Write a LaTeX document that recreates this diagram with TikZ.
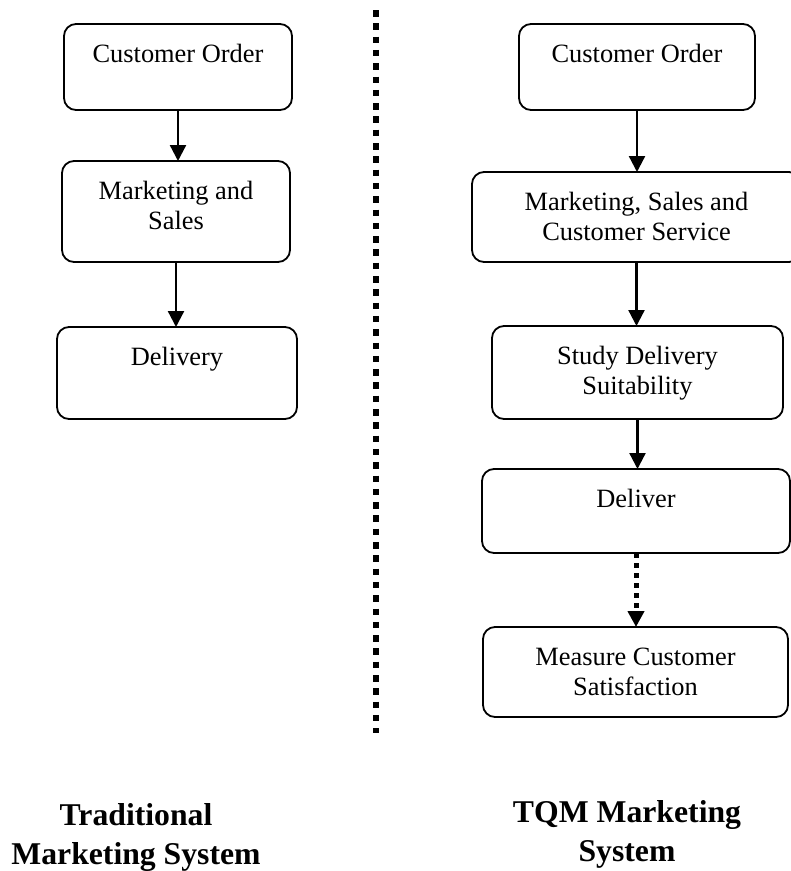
\documentclass[tikz,border=0pt]{standalone}
\usepackage{fontspec}
\setmainfont{Liberation Serif}
\usetikzlibrary{arrows.meta}
\newcommand\mybx[3]{\parbox[c][#2pt][t]{#1pt}{\centering\rule{0pt}{38.5pt}#3\par}}
\begin{document}
\begin{tikzpicture}[x=1pt,y=-1pt,
  box/.style={draw, line width=1.8pt, rounded corners=12pt, inner sep=0pt, outer sep=0pt,
    font=\fontsize{26.4}{30}\selectfont},
  arr/.style={line width=2.3pt, -{Triangle[width=16pt,length=16pt]}},
  dotarr/.style={line width=5pt, dash pattern=on 5pt off 5pt, -{Triangle[width=16pt,length=16pt]}},
  divider/.style={line width=6.5pt, dash pattern=on 6.5pt off 6.8pt},
  title/.style={inner sep=0pt, anchor=north, align=center,
    font=\fontsize{31.7}{39}\selectfont\bfseries}]
\fill[white] (0,0) rectangle (791,871);
\clip (0,0) rectangle (791,871);

% left column
\node[box] (L1) at (178,67) {\mybx{228}{86}{Customer Order}};
\node[box] (L2) at (176,211.5) {\mybx{228}{101}{Marketing and\\Sales}};
\node[box] (L3) at (177,373) {\mybx{240}{92}{Delivery}};

\draw[arr] (L1.south) -- (L1.south |- L2.north);
\draw[arr] (L2.south) -- (L2.south |- L3.north);

% right column
\node[box] (R1) at (637,67) {\mybx{236}{86}{Customer Order}};
\node[box] (R2) at (636.5,217) {\mybx{329}{90}{Marketing, Sales and\\Customer Service}};
\node[box] (R3) at (637.5,372.5) {\mybx{291}{93}{Study Delivery\\Suitability}};
\node[box] (R4) at (636,511) {\mybx{308}{84}{Deliver}};
\node[box] (R5) at (635.5,672) {\mybx{305}{90}{Measure Customer\\Satisfaction}};

\draw[arr] (R1.south) -- (R1.south |- R2.north);
\draw[arr] (R2.south) -- (R2.south |- R3.north);
\draw[arr] (R3.south) -- (R3.south |- R4.north);
\draw[dotarr] (R4.south) -- (R4.south |- R5.north);

% divider
\coordinate (d1) at (376,10);
\coordinate (d2) at (376,733);
\draw[divider] (d1) -- (d2);

% titles
\node[title] (tl) at (136,795) {\rule{0pt}{30pt}Traditional\\Marketing System};
\node[title] (tr) at (627,792) {\rule{0pt}{30pt}TQM Marketing\\System};
\end{tikzpicture}
\end{document}
